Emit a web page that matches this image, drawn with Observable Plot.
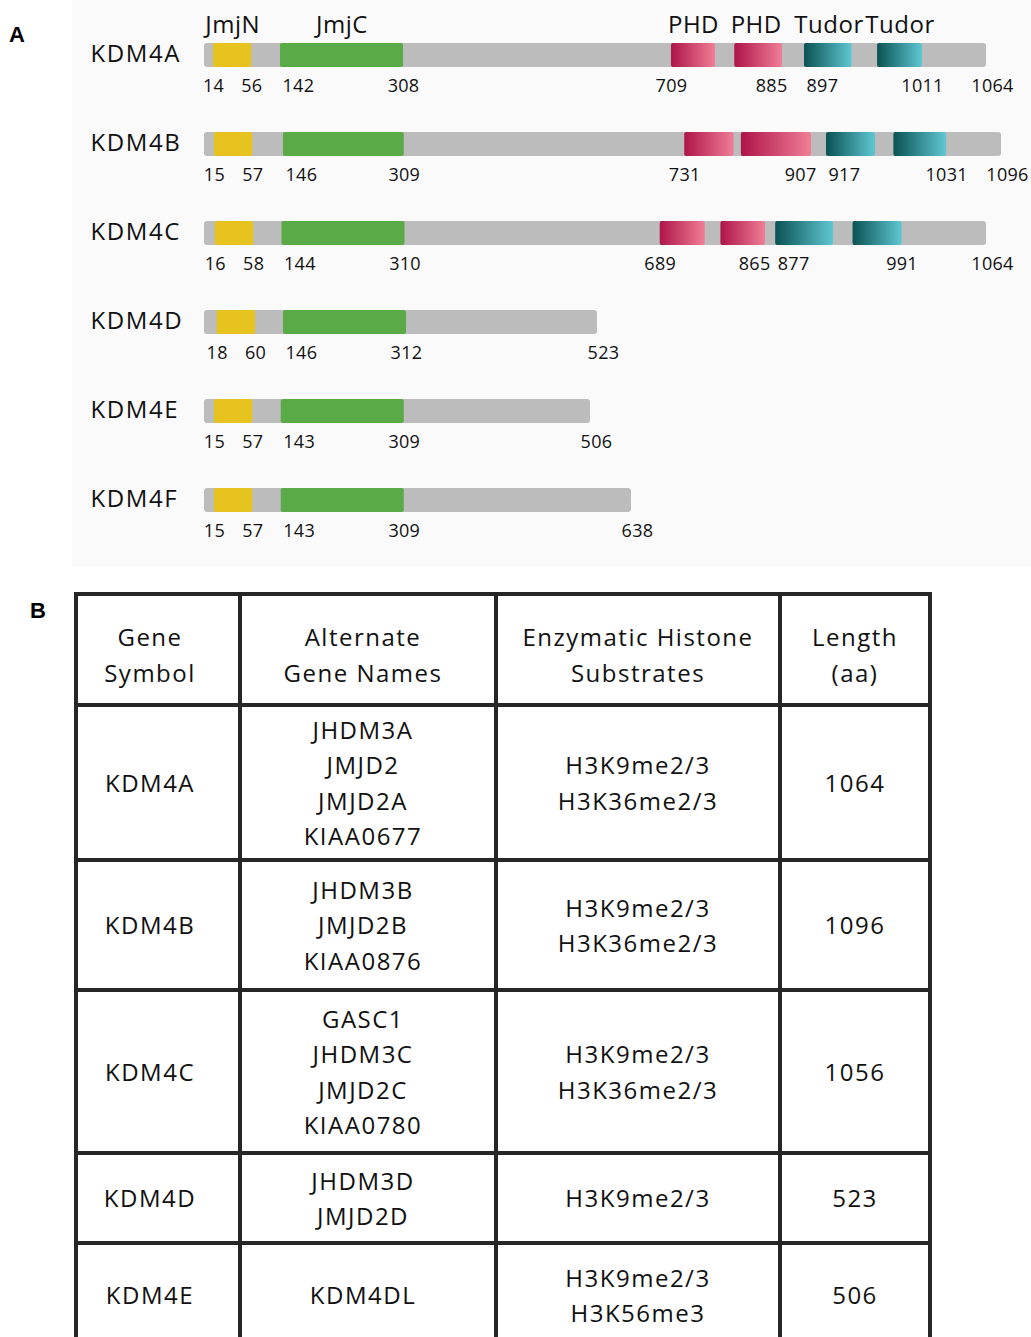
<!DOCTYPE html>
<html>
<head>
<meta charset="utf-8">
<script src="https://cdn.jsdelivr.net/npm/d3@7"></script>
<script src="https://cdn.jsdelivr.net/npm/@observablehq/plot@0.6"></script>
<style>
  html, body { margin: 0; padding: 0; background: #ffffff; }
  body { width: 1031px; height: 1337px; overflow: hidden; position: relative; font-family: "Open Sans", sans-serif; }
  #panelA { position: absolute; left: 0; top: 0; width: 1031px; height: 566px; }
  #panelA .bg { position: absolute; left: 72px; top: 0; width: 959px; height: 566px; background: #fafafa; }
  #chart { position: absolute; left: 0; top: 0; }
  .panel-letter { position: absolute; font-family: "Liberation Sans", Arial, sans-serif; font-weight: bold; font-size: 22px; line-height: 1; color: #000; }
  .gene-label text { letter-spacing: 1.6px; }
  .head-label text { letter-spacing: 0.5px; }
  .pos-label text { letter-spacing: 0.3px; }
  #table { position: absolute; left: 74px; top: 592px; display: grid; background: #262626; padding: 4px; gap: 4px;
           grid-template-columns: 160px 252px 280px 146px;
           grid-template-rows: 107px 151px 126px 159px 86px 100px; }
  .cell { background: #ffffff; display: flex; flex-direction: column; align-items: center; justify-content: center;
          font-family: "Open Sans", sans-serif; font-size: 24px; letter-spacing: 1.5px; line-height: 35.5px; color: #111; text-align: center; box-sizing: border-box; }
  .cell.head { padding-top: 10px; }
  .cell.c0 { padding-right: 16px; }
  .cell.c1 { padding-right: 10px; }
</style>
</head>
<body>
<div id="panelA"><div class="bg"></div><div id="chart"></div></div>
<div class="panel-letter" style="left:9px;top:24px;">A</div>
<div class="panel-letter" style="left:30px;top:600px;">B</div>
<div id="table"></div>
<script>
// ---------- Panel A data ----------
const proteins       = ["KDM4A", "KDM4B", "KDM4C", "KDM4D", "KDM4E", "KDM4F"];
const proteinLengths = [1064, 1096, 1064, 523, 506, 638];
const jmjNStart      = [14, 15, 16, 18, 15, 15];
const jmjNEnd        = [56, 57, 58, 60, 57, 57];
const jmjCStart      = [142, 146, 144, 146, 143, 143];
const jmjCEnd        = [308, 309, 310, 312, 309, 309];
// C-terminal reader domains (KDM4A, KDM4B, KDM4C only)
const phd1Start   = [709, 731, 689];
const phd1End     = [782, 813, 765];   // estimated (unlabelled)
const phd2Start   = [814, 825, 791];   // estimated (unlabelled)
const phd2End     = [885, 907, 865];
const tudor1Start = [897, 917, 877];
const tudor1End   = [942, 965, 924];   // estimated (unlabelled)
const tudor2Start = [967, 983, 943];   // estimated (unlabelled)
const tudor2End   = [1011, 1031, 991];

// ---------- Panel B data ----------
const tableHeaders   = [["Gene", "Symbol"], ["Alternate", "Gene Names"], ["Enzymatic Histone", "Substrates"], ["Length", "(aa)"]];
const tableGenes     = ["KDM4A", "KDM4B", "KDM4C", "KDM4D", "KDM4E"];
const tableAltNames  = [["JHDM3A", "JMJD2", "JMJD2A", "KIAA0677"], ["JHDM3B", "JMJD2B", "KIAA0876"], ["GASC1", "JHDM3C", "JMJD2C", "KIAA0780"], ["JHDM3D", "JMJD2D"], ["KDM4DL"]];
const tableSubstrates = [["H3K9me2/3", "H3K36me2/3"], ["H3K9me2/3", "H3K36me2/3"], ["H3K9me2/3", "H3K36me2/3"], ["H3K9me2/3"], ["H3K9me2/3", "H3K56me3"]];
const tableLengths   = [1064, 1096, 1056, 523, 506];

// ---------- build tables for Plot ----------
const proteinRows = proteins.map((p, i) => ({protein: p, length: proteinLengths[i]}));
const domainRows = [];
const labelRows = [];
proteins.forEach((p, i) => {
  domainRows.push({protein: p, kind: "JmjN", start: jmjNStart[i], end: jmjNEnd[i]});
  domainRows.push({protein: p, kind: "JmjC", start: jmjCStart[i], end: jmjCEnd[i]});
  labelRows.push({protein: p, value: jmjNStart[i], role: "mid"});
  labelRows.push({protein: p, value: jmjNEnd[i], role: "mid"});
  labelRows.push({protein: p, value: jmjCStart[i], role: "start"});
  labelRows.push({protein: p, value: jmjCEnd[i], role: "mid"});
  if (i < phd1Start.length) {
    domainRows.push({protein: p, kind: "PHD", start: phd1Start[i], end: phd1End[i]});
    domainRows.push({protein: p, kind: "PHD", start: phd2Start[i], end: phd2End[i]});
    domainRows.push({protein: p, kind: "Tudor", start: tudor1Start[i], end: tudor1End[i]});
    domainRows.push({protein: p, kind: "Tudor", start: tudor2Start[i], end: tudor2End[i]});
    labelRows.push({protein: p, value: phd1Start[i], role: "mid"});
    labelRows.push({protein: p, value: phd2End[i], role: "end"});
    labelRows.push({protein: p, value: tudor1Start[i], role: "start"});
    labelRows.push({protein: p, value: tudor2End[i], role: "mid"});
  }
  labelRows.push({protein: p, value: proteinLengths[i], role: "len"});
});
const headerRows = domainRows.filter(d => d.protein === proteins[0]);

// schematic (not-to-scale) piecewise residue axis, as in the original drawing
const xBreaks = [0, 14, 60, 142, 312, 506, 523, 638, 709, 865, 885, 897, 907, 917, 1011, 1064, 1096];
const xStops  = [204, 213, 255, 280, 406, 590, 597, 631, 671, 765, 782, 804, 811, 826, 922, 986, 1001];

const FONT = "'Open Sans', sans-serif";
const textCommon = {y: "protein", fontFamily: FONT, fill: "#111"};

const chart = Plot.plot({
  width: 1031,
  height: 566,
  marginTop: 0, marginRight: 0, marginBottom: 0, marginLeft: 0,
  style: {background: "transparent", overflow: "visible"},
  x: {type: "linear", domain: xBreaks, range: xStops, axis: null},
  y: {type: "band", domain: proteins, range: [7, 547], paddingInner: 0.7333, paddingOuter: 0.3667, align: 0.5, axis: null},
  marks: [
    Plot.barX(proteinRows, {x1: 0, x2: "length", y: "protein", fill: "#bcbcbc", rx: 3}),
    Plot.barX(domainRows.filter(d => d.kind === "JmjN"), {x1: "start", x2: "end", y: "protein", fill: "#e7c31f", rx: 2}),
    Plot.barX(domainRows.filter(d => d.kind === "JmjC"), {x1: "start", x2: "end", y: "protein", fill: "#5aab48", rx: 2}),
    Plot.barX(domainRows.filter(d => d.kind === "PHD"), {x1: "start", x2: "end", y: "protein", fill: "url(#phdGrad)", rx: 2}),
    Plot.barX(domainRows.filter(d => d.kind === "Tudor"), {x1: "start", x2: "end", y: "protein", fill: "url(#tudorGrad)", rx: 2}),
    // gene names (left-aligned)
    Plot.text(proteinRows, {...textCommon, x: () => 0, text: "protein", textAnchor: "start", dx: -114, dy: -1, fontSize: 24, className: "gene-label"}),
    // domain headers above the first protein
    Plot.text(headerRows, {...textCommon, x: d => (d.start + d.end) / 2, text: "kind", dy: -30, fontSize: 24, className: "head-label"}),
    // residue numbers
    Plot.text(labelRows.filter(d => d.role === "mid"), {...textCommon, x: "value", text: d => String(d.value), dy: 31, fontSize: 18, className: "pos-label"}),
    Plot.text(labelRows.filter(d => d.role === "len"), {...textCommon, x: "value", text: d => String(d.value), dy: 31, dx: 6, fontSize: 18, className: "pos-label"}),
    Plot.text(labelRows.filter(d => d.role === "start"), {...textCommon, x: "value", text: d => String(d.value), dy: 31, dx: 2, textAnchor: "start", fontSize: 18, className: "pos-label"}),
    Plot.text(labelRows.filter(d => d.role === "end"), {...textCommon, x: "value", text: d => String(d.value), dy: 31, dx: 5, textAnchor: "end", fontSize: 18, className: "pos-label"})
  ]
});

// gradients for PHD and Tudor domains
const defs = d3.select(chart).insert("defs", ":first-child");
const grads = [
  {id: "phdGrad", from: "#ae1449", to: "#f07e96"},
  {id: "tudorGrad", from: "#0a5253", to: "#5fc7d2"}
];
grads.forEach(g => {
  const lg = defs.append("linearGradient").attr("id", g.id).attr("x1", 0).attr("x2", 1).attr("y1", 0).attr("y2", 0);
  lg.append("stop").attr("offset", "0%").attr("stop-color", g.from);
  lg.append("stop").attr("offset", "100%").attr("stop-color", g.to);
});
document.getElementById("chart").appendChild(chart);

// ---------- Panel B table ----------
const table = document.getElementById("table");
function addCell(lines, cls) {
  const c = document.createElement("div");
  c.className = "cell " + cls;
  lines.forEach(t => { const s = document.createElement("div"); s.textContent = t; c.appendChild(s); });
  table.appendChild(c);
}
tableHeaders.forEach((h, j) => addCell(h, "head c" + j));
tableGenes.forEach((g, i) => {
  addCell([g], "c0");
  addCell(tableAltNames[i], "c1");
  addCell(tableSubstrates[i], "c2");
  addCell([String(tableLengths[i])], "c3");
});
</script>
</body>
</html>
